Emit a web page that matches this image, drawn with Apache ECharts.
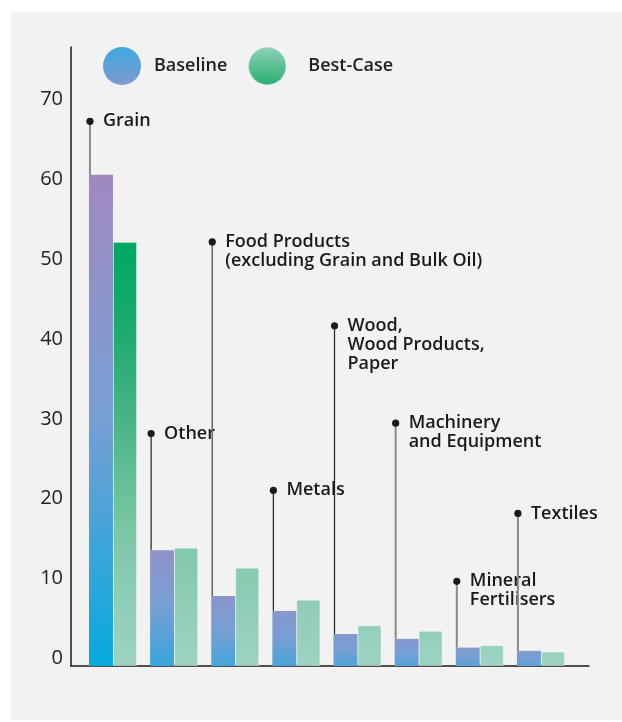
<!DOCTYPE html>
<html>
<head>
<meta charset="utf-8">
<script src="https://cdn.jsdelivr.net/npm/echarts@6/dist/echarts.min.js"></script>
<style>
  html, body { margin: 0; padding: 0; background: #ffffff; }
  #chart { width: 622px; height: 722px; }
</style>
</head>
<body>
<div id="chart"></div>
<script>
// Commodity groups, left to right
const categories = [
  'Grain',
  'Other',
  'Food Products\n(excluding Grain and Bulk Oil)',
  'Metals',
  'Wood,\nWood Products,\nPaper',
  'Machinery\nand Equipment',
  'Mineral\nFertilisers',
  'Textiles'
];
const baseline = [61.5, 14.5, 8.75, 6.9, 4.0, 3.4, 2.3, 1.9];
const bestCase = [53.1, 14.8, 12.3, 8.3, 5.1, 4.4, 2.6, 1.8];
// height at which each category's callout dot sits
const calloutLevel = [68.2, 29.1, 53.1, 22.0, 42.6, 30.4, 10.6, 19.1];
const yTicks = [0, 10, 20, 30, 40, 50, 60, 70];

// callout leader line styles
const leaderColor = ['#4a4a4a', '#222222', '#6a6a6a', '#222222', '#222222', '#8a8a8a', '#8a8a8a', '#8a8a8a'];
const leaderWidth = [1.2, 1.2, 1.6, 1.2, 1.2, 2, 2, 2];

const FONT = '"Open Sans", "Noto Sans", sans-serif';
const BAR_W = 24;
const Y_MAX = 77.5;

function hex(c) {
  return [parseInt(c.slice(1, 3), 16), parseInt(c.slice(3, 5), 16), parseInt(c.slice(5, 7), 16)];
}
function ramp(stops, t) {
  t = Math.max(0, Math.min(1, t));
  for (let i = 1; i < stops.length; i++) {
    if (t <= stops[i][0]) {
      const a = stops[i - 1], b = stops[i];
      const k = (t - a[0]) / (b[0] - a[0]);
      const ca = hex(a[1]), cb = hex(b[1]);
      const m = ca.map((v, j) => Math.round(v + (cb[j] - v) * k));
      return 'rgb(' + m.join(',') + ')';
    }
  }
  return stops[stops.length - 1][1];
}
// 0 = bottom colour, 1 = top colour
const blueRamp = [[0, '#05abde'], [0.5, '#779fd4'], [1, '#a189bf']];
const greenRamp = [[0, '#9dd3c3'], [0.3, '#80c8a8'], [0.6, '#45b382'], [0.85, '#12a968'], [1, '#00a862']];

function gradientBetween(rampStops, tTop, tBottom) {
  const stops = [];
  for (let i = 0; i <= 6; i++) {
    const o = i / 6;
    stops.push({ offset: o, color: ramp(rampStops, tTop + (tBottom - tTop) * o) });
  }
  return new echarts.graphic.LinearGradient(0, 0, 0, 1, stops);
}

const maxBase = Math.max(...baseline);
const maxBest = Math.max(...bestCase);

const baselineItems = baseline.map(v => {
  const f = Math.pow(v / maxBase, 0.4);
  return { value: v, itemStyle: { color: gradientBetween(blueRamp, 0.5 + 0.5 * f, 0.5 - 0.5 * f) } };
});
const bestItems = bestCase.map(v => ({
  value: v,
  itemStyle: { color: gradientBetween(greenRamp, v / maxBest, 0) }
}));

const calloutData = categories.map((c, i) => [i, calloutLevel[i], baseline[i]]);

const chart = echarts.init(document.getElementById('chart'), null, { renderer: 'canvas' });

chart.setOption({
  backgroundColor: '#ffffff',
  animation: false,
  graphic: [{
    type: 'rect', left: 11, top: 12, z: -10, silent: true,
    shape: { width: 611, height: 708 },
    style: { fill: '#f2f2f2' }
  }],
  legend: {
    left: 103, top: 46, padding: 0,
    icon: 'circle',
    itemWidth: 38, itemHeight: 38,
    itemGap: 20,
    textStyle: { fontFamily: FONT, fontSize: 18, fontWeight: 600, color: '#1e1e1e' },
    data: [
      { name: 'Baseline', textStyle: { padding: [0, 0, 0, 8] } },
      { name: 'Best-Case', textStyle: { padding: [0, 0, 0, 17] } }
    ]
  },
  grid: [
    { left: 71, right: 33, top: 47, bottom: 56 },
    { left: 82.4, width: 489.1, top: 47, bottom: 56 }
  ],
  xAxis: [
    {
      gridIndex: 0, type: 'value', min: 0, max: 1,
      axisLine: { show: true, lineStyle: { color: '#1a1a1a', width: 1.5 } },
      axisTick: { show: false }, axisLabel: { show: false }, splitLine: { show: false }
    },
    { gridIndex: 1, type: 'category', data: categories, show: false }
  ],
  yAxis: [
    {
      gridIndex: 0, type: 'value', min: 0, max: Y_MAX, interval: 10,
      axisLine: { show: true, lineStyle: { color: '#1a1a1a', width: 1.5 } },
      axisTick: { show: false }, splitLine: { show: false },
      axisLabel: {
        showMaxLabel: false,
        margin: 8,
        fontFamily: FONT, fontSize: 20, color: '#222222',
        verticalAlign: 'bottom', lineHeight: 15,
        formatter: v => (yTicks.indexOf(v) >= 0 ? String(v) : '')
      }
    },
    { gridIndex: 1, type: 'value', min: 0, max: Y_MAX, show: false }
  ],
  series: [
    {
      name: 'Baseline', type: 'bar', xAxisIndex: 1, yAxisIndex: 1,
      barWidth: BAR_W, barGap: '0%',
      itemStyle: {
        color: new echarts.graphic.LinearGradient(0, 0, 0, 1, [
          { offset: 0, color: '#3ea8de' }, { offset: 1, color: '#7f9acf' }
        ])
      },
      data: baselineItems
    },
    {
      name: 'Best-Case', type: 'bar', xAxisIndex: 1, yAxisIndex: 1,
      barWidth: BAR_W,
      itemStyle: {
        color: new echarts.graphic.LinearGradient(0, 0, 0, 1, [
          { offset: 0, color: '#92d2b8' }, { offset: 1, color: '#27ad70' }
        ]),
        borderColor: 'rgba(255,255,255,0.35)', borderWidth: 1
      },
      data: bestItems
    },
    {
      name: 'callouts', type: 'custom', xAxisIndex: 1, yAxisIndex: 1,
      clip: false, z: 5, silent: true,
      renderItem: function (params, api) {
        const i = api.value(0);
        const dot = api.coord([i, api.value(1)]);
        const top = api.coord([i, api.value(2)]);
        const x = dot[0] - BAR_W + 1;
        return {
          type: 'group',
          children: [
            {
              type: 'line',
              shape: { x1: x, y1: dot[1], x2: x, y2: top[1] },
              style: { stroke: leaderColor[i], lineWidth: leaderWidth[i] }
            },
            {
              type: 'circle',
              shape: { cx: x, cy: dot[1], r: 3.6 },
              style: { fill: '#1a1a1a' }
            },
            {
              type: 'text',
              style: {
                text: categories[i],
                x: x + 13, y: dot[1] - 9.5,
                align: 'left', verticalAlign: 'top',
                lineHeight: 19,
                font: '600 18px ' + FONT,
                fill: '#1a1a1a'
              }
            }
          ]
        };
      },
      data: calloutData
    }
  ]
});
</script>
</body>
</html>
